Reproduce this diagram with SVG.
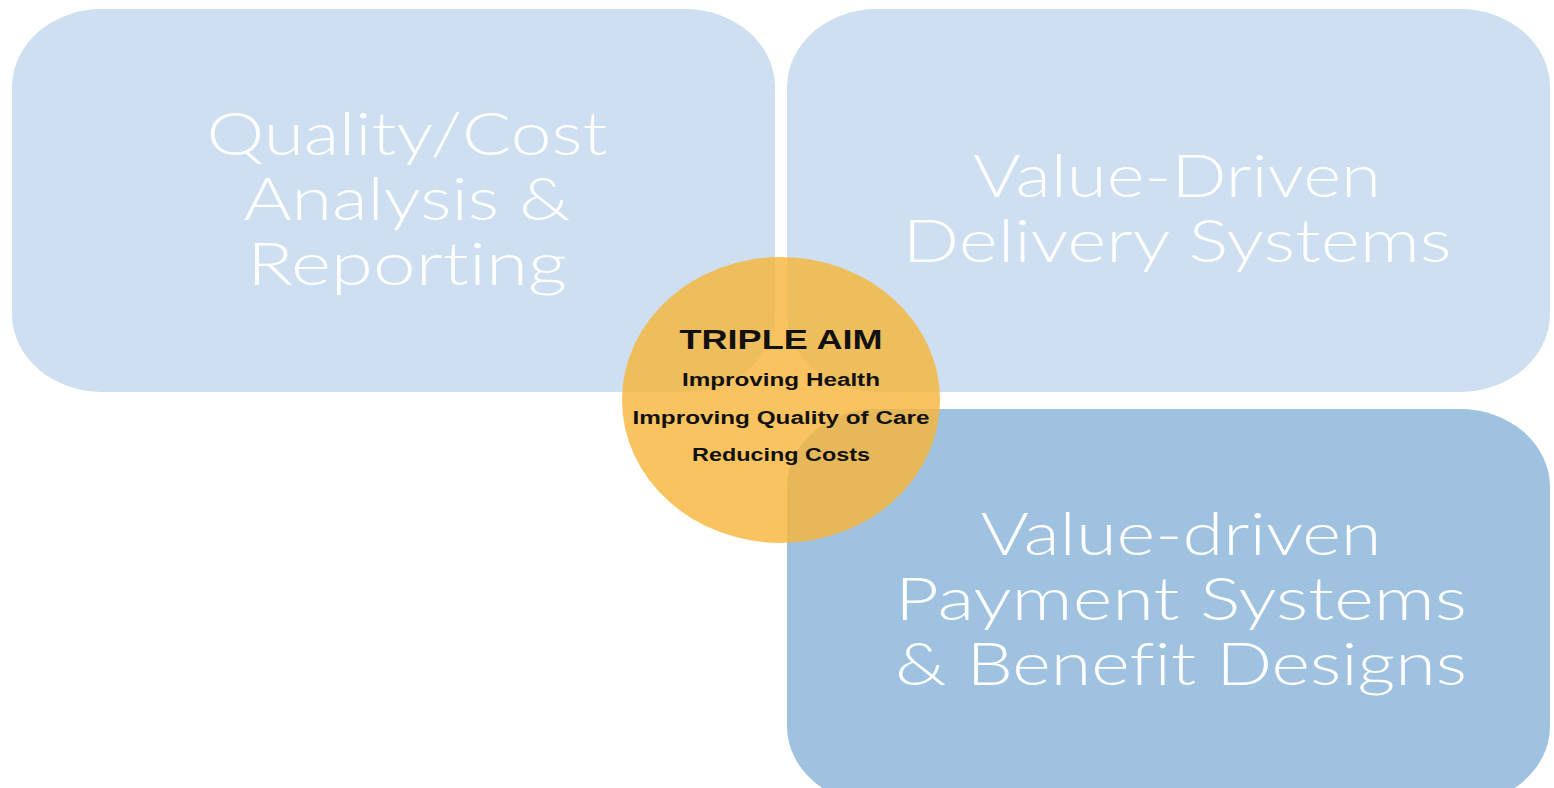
<svg xmlns="http://www.w3.org/2000/svg" width="1554" height="788" viewBox="0 0 1554 788">
<style>
.box{fill:#cddff0}
.box2{fill:#9ec2e0}
.big{font-family:Lato,"Liberation Sans",sans-serif;font-weight:300;font-size:60px;fill:#ffffff;text-anchor:middle;font-variant-ligatures:none}
.aim{font-family:"Liberation Sans",Arial,sans-serif;font-weight:bold;fill:#111111;text-anchor:middle}
</style>
<rect width="1554" height="788" fill="#ffffff"/>
<g id="node-quality">
<rect class="box" x="12" y="9" width="763" height="383" rx="90" ry="78"/>
<text class="big" x="407" y="155" textLength="401" lengthAdjust="spacingAndGlyphs">Quality/Cost</text>
<text class="big" x="407" y="220" textLength="327" lengthAdjust="spacingAndGlyphs">Analysis &amp;</text>
<text class="big" x="407" y="285" textLength="320" lengthAdjust="spacingAndGlyphs">Reporting</text>
</g>
<g id="node-delivery">
<rect class="box" x="787" y="9" width="763" height="383" rx="90" ry="78"/>
<text class="big" x="1177" y="197" textLength="408" lengthAdjust="spacingAndGlyphs">Value-Driven</text>
<text class="big" x="1177" y="262" textLength="549" lengthAdjust="spacingAndGlyphs">Delivery Systems</text>
</g>
<g id="node-payment">
<rect class="box2" x="787" y="409" width="763" height="395" rx="90" ry="78"/>
<text class="big" x="1181" y="555" textLength="401" lengthAdjust="spacingAndGlyphs">Value-driven</text>
<text class="big" x="1181" y="620" textLength="572" lengthAdjust="spacingAndGlyphs">Payment Systems</text>
<text class="big" x="1181" y="685" textLength="572" lengthAdjust="spacingAndGlyphs">&amp; Benefit Designs</text>
</g>
<g id="node-triple-aim">
<ellipse cx="781" cy="400" rx="159" ry="143" fill="#f8b537" fill-opacity="0.8"/>
<text class="aim" x="781" y="349" font-size="28" textLength="203" lengthAdjust="spacingAndGlyphs">TRIPLE AIM</text>
<text class="aim" x="781" y="386" font-size="18" textLength="198" lengthAdjust="spacingAndGlyphs">Improving Health</text>
<text class="aim" x="781" y="424" font-size="18" textLength="297" lengthAdjust="spacingAndGlyphs">Improving Quality of Care</text>
<text class="aim" x="781" y="461" font-size="18" textLength="178" lengthAdjust="spacingAndGlyphs">Reducing Costs</text>
</g>
<g id="connectors"></g>
</svg>
